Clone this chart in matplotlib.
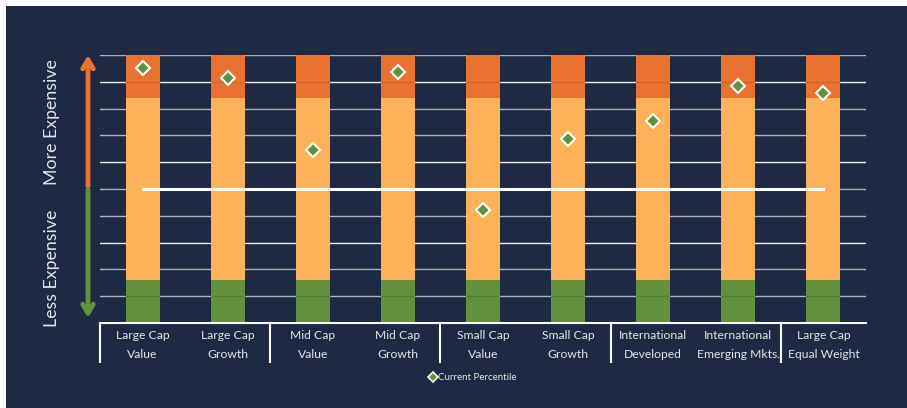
import matplotlib.pyplot as plt
from matplotlib.lines import Line2D
from matplotlib.patches import Rectangle
import matplotlib.transforms as mtransforms

# valuation ranges (percentile bands) and where each segment sits today
categories = ["Large Cap\nValue", "Large Cap\nGrowth", "Mid Cap\nValue", "Mid Cap\nGrowth",
              "Small Cap\nValue", "Small Cap\nGrowth", "International\nDeveloped",
              "International\nEmerging Mkts.", "Large Cap\nEqual Weight"]
low_band = [16, 16, 16, 16, 16, 16, 16, 16, 16]
mid_band = [68, 68, 68, 68, 68, 68, 68, 68, 68]
high_band = [16, 16, 16, 16, 16, 16, 16, 16, 16]
current_pct = [95.1, 91.4, 64.6, 93.7, 42.2, 68.7, 75.4, 88.4, 85.8]
group_edges = [-0.5, 1.5, 3.5, 5.5, 7.5]

navy = "#1E2943"
green = "#62903C"
light_orange = "#FDB158"
dark_orange = "#EA7231"
text_col = "#E2E4E8"

plt.rcParams['font.family'] = ['Lato', 'DejaVu Sans']

W, H = 907, 408
fig = plt.figure(figsize=(W / 100, H / 100), dpi=100, facecolor="white")
fig.add_artist(Rectangle((6 / W, 0), 1, 1 - 6 / H, transform=fig.transFigure,
                         facecolor=navy, edgecolor="none", zorder=-10))

ax = fig.add_axes([100 / W, 1 - 323 / H, 766 / W, 268 / H])
ax.set_facecolor("none")

x = list(range(len(categories)))
ax.set_xlim(-0.5, len(categories) - 0.5)
ax.set_ylim(0, 100)

# gridlines
for g in range(10, 101, 10):
    col = "#EEF0F3" if g in (30, 60, 90) else "#ADB1BA"
    ax.axhline(g, color=col, lw=1, zorder=1)

# stacked bands
bottoms2 = [a + b for a, b in zip(low_band, mid_band)]
ax.bar(x, low_band, width=0.4, color=green, zorder=2)
ax.bar(x, mid_band, width=0.4, bottom=low_band, color=light_orange, zorder=2)
ax.bar(x, high_band, width=0.4, bottom=bottoms2, color=dark_orange, zorder=2)

# faint gridlines through the bars
for g in (10, 90):
    ax.plot([i for xi in x for i in (xi - 0.2, xi + 0.2, None)],
            [v for _ in x for v in (g, g, None)], color="#000000", alpha=0.12, lw=1, zorder=3)

# median line
ax.plot([x[0], x[-1]], [50, 50], color="white", lw=2.2, zorder=4)

# current percentile markers
ax.plot(x, current_pct, linestyle="none", marker="D", markersize=7,
        markerfacecolor=green, markeredgecolor="white", markeredgewidth=1.5, zorder=5)

for s in ax.spines.values():
    s.set_visible(False)
ax.set_xticks([])
ax.set_yticks([])

# bottom axis line and category labels
ax.plot([-0.5, len(categories) - 0.5], [0, 0], color="white", lw=1.5, clip_on=False, zorder=6)
trans = mtransforms.blended_transform_factory(ax.transData, ax.transAxes)
for e in group_edges:
    ax.plot([e, e], [0, -0.145], color="white", lw=1.5, transform=trans, clip_on=False)
for xi, lab in zip(x, categories):
    top, bottom = lab.split("\n")
    ax.text(xi, -0.045, top, transform=trans, ha="center", va="center", fontsize=8.7, color=text_col)
    ax.text(xi, -0.119, bottom, transform=trans, ha="center", va="center", fontsize=8.7, color=text_col)

# legend
fig.add_artist(Line2D([433 / W], [1 - 377 / H], marker="D", markersize=5, linestyle="none",
                      markerfacecolor=green, markeredgecolor="white", markeredgewidth=1.2,
                      transform=fig.transFigure))
fig.text(438 / W, 1 - 377 / H, "Current Percentile", fontsize=7, color=text_col,
         ha="left", va="center")

# side arrows and labels
ax.annotate("", xy=(88, H - 55), xytext=(88, H - 186), xycoords="figure pixels",
            textcoords="figure pixels",
            arrowprops=dict(arrowstyle="->,head_length=0.65,head_width=0.38", lw=3.5,
                            color=dark_orange, shrinkA=0, shrinkB=0))
ax.annotate("", xy=(88, H - 318), xytext=(88, H - 190), xycoords="figure pixels",
            textcoords="figure pixels",
            arrowprops=dict(arrowstyle="->,head_length=0.65,head_width=0.38", lw=3.5,
                            color=green, shrinkA=0, shrinkB=0))
fig.text(52 / W, 1 - 122 / H, "More Expensive", rotation=90, fontsize=12.8, color=text_col,
         ha="center", va="center")
fig.text(52 / W, 1 - 268 / H, "Less Expensive", rotation=90, fontsize=12.8, color=text_col,
         ha="center", va="center")

fig.savefig("out.png", dpi=100, facecolor=fig.get_facecolor())
